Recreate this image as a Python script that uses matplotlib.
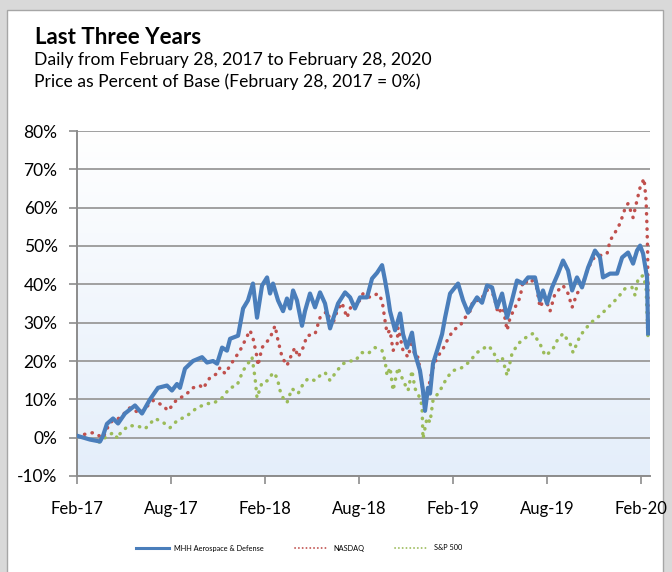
import numpy as np
import matplotlib
matplotlib.use("Agg")
import matplotlib.pyplot as plt
from matplotlib.patches import Rectangle
from matplotlib.lines import Line2D
from matplotlib.colors import LinearSegmentedColormap

plt.rcParams['font.family'] = ['Lato', 'DejaVu Sans']

# x values are months after the base date (Feb 28, 2017)
mhh_x = [0.00, 0.83, 1.47, 1.66, 1.91, 2.30, 2.62, 3.06, 3.70, 4.15, 4.66, 5.17, 5.74, 6.06,
         6.38, 6.57, 6.89, 7.40, 7.98, 8.30, 8.68, 8.94, 9.26, 9.57, 9.77, 10.28, 10.60, 10.91,
         11.23, 11.49, 11.81, 12.13, 12.32, 12.51, 12.83, 13.15, 13.40, 13.60, 13.79, 14.04,
         14.36, 14.55, 14.87, 15.19, 15.51, 15.83, 16.15, 16.66, 17.11, 17.43, 17.74, 18.06,
         18.51, 18.83, 19.15, 19.47, 19.66, 19.85, 19.98, 20.30, 20.62, 20.81, 21.06, 21.38,
         21.57, 21.89, 22.08, 22.21, 22.40, 22.53, 22.72, 22.98, 23.30, 23.49, 23.81, 24.32,
         24.64, 24.96, 25.21, 25.53, 25.85, 26.17, 26.49, 26.81, 27.13, 27.45, 27.76, 28.08,
         28.47, 28.79, 29.23, 29.55, 29.74, 30.00, 30.32, 30.70, 31.02, 31.34, 31.60, 31.91,
         32.23, 32.62, 33.06, 33.38, 33.57, 34.02, 34.47, 34.79, 35.17, 35.49, 35.74, 35.94,
         36.13, 36.38, 36.45]
mhh_y = [0.5, -0.5, -1.0, 0.5, 3.6, 5.0, 3.7, 6.3, 8.4, 6.3, 10.0, 13.0, 13.6, 12.3,
         14.0, 13.0, 18.0, 20.0, 21.0, 19.6, 20.0, 19.3, 23.5, 22.7, 25.8, 26.6, 33.7, 35.8,
         40.2, 31.3, 39.7, 41.8, 37.6, 40.2, 35.8, 33.0, 36.3, 33.7, 38.4, 35.8,
         29.2, 33.0, 37.6, 34.0, 37.9, 35.0, 28.5, 35.0, 37.9, 36.6, 33.7, 36.6,
         36.6, 41.5, 43.0, 45.0, 41.0, 36.6, 33.0, 28.0, 32.4, 27.0, 23.5, 27.4,
         21.9, 17.5, 12.3, 7.0, 13.0, 11.5, 19.3, 22.7, 27.0, 31.3, 37.6, 40.2,
         35.8, 32.6, 34.5, 36.6, 35.2, 39.7, 39.2, 34.0, 37.6, 31.3, 35.8, 41.0,
         40.2, 41.8, 41.8, 35.8, 38.4, 35.0, 39.2, 42.8, 46.2, 43.6, 38.4, 41.8,
         39.2, 44.4, 48.8, 47.0, 41.8, 42.8, 42.8, 47.0, 48.3, 45.4, 48.8, 50.1,
         48.0, 41.8, 27.2]

nasdaq_x = [0.00, 1.02, 1.66, 2.11, 2.74, 3.38, 4.02, 4.85, 5.49, 5.81, 6.38, 6.89, 7.40, 7.85,
            8.04, 8.49, 8.94, 9.13, 9.45, 9.57, 9.96, 10.40, 10.72, 11.04, 11.23, 11.49, 11.55,
            11.81, 12.32, 12.64, 12.83, 13.09, 13.40, 13.72, 13.91, 14.11, 14.43, 14.68, 15.19,
            15.51, 15.96, 16.28, 16.60, 16.91, 17.23, 17.55, 17.87, 18.26, 18.70, 19.21, 19.47,
            19.66, 19.79, 19.98, 20.17, 20.43, 20.49, 20.81, 21.13, 21.38, 21.57, 21.77, 22.02,
            22.21, 22.40, 22.66, 22.98, 23.30, 23.62, 24.00, 24.45, 24.77, 25.08, 25.28, 25.72,
            26.17, 26.36, 26.68, 26.87, 27.19, 27.45, 27.64, 27.96, 28.28, 28.47, 28.91, 29.23,
            29.55, 29.87, 30.19, 30.51, 31.02, 31.34, 31.60, 31.91, 32.23, 32.55, 32.94, 33.38,
            33.83, 34.02, 34.34, 34.66, 34.98, 35.17, 35.49, 35.74, 35.94, 36.19, 36.32, 36.38,
            36.42, 36.45]
nasdaq_y = [0.5, 1.3, 0.0, 4.0, 5.2, 7.8, 6.3, 9.7, 8.4, 7.0, 10.0, 11.0, 13.0, 13.6,
            12.8, 15.7, 16.7, 18.3, 16.7, 17.5, 20.0, 22.7, 25.3, 28.0, 26.0, 21.0, 18.8,
            23.5, 26.0, 29.2, 25.3, 21.0, 18.8, 21.9, 23.5, 21.0, 23.5, 26.6, 27.0,
            31.3, 33.0, 29.2, 33.0, 35.2, 31.3, 35.0, 34.5, 37.6, 36.6, 37.6, 35.8,
            30.5, 27.2, 28.0, 22.7, 24.5, 28.7, 22.7, 21.0, 25.3, 21.0, 21.0, 14.0,
            8.9, 12.3, 17.5, 21.0, 22.7, 25.3, 28.0, 29.2, 31.3, 33.0, 35.8, 35.8,
            38.4, 39.7, 35.8, 32.4, 34.0, 28.0, 31.3, 34.0, 36.6, 41.0, 40.2, 41.8,
            34.0, 36.6, 33.0, 37.6, 39.7, 37.6, 34.0, 37.6, 39.2, 43.6, 46.7, 47.5,
            48.0, 51.4, 53.5, 55.9, 59.8, 61.1, 57.4, 61.9, 65.3, 67.6, 61.9, 54.8,
            48.3, 28.5]

sp500_x = [0.00, 0.83, 1.47, 1.79, 2.30, 2.62, 2.74, 3.26, 3.83, 4.34, 4.98, 5.49, 5.94, 6.38,
           7.02, 7.66, 8.30, 8.68, 9.26, 9.77, 10.21, 10.60, 10.91, 11.17, 11.36, 11.49, 11.81,
           12.19, 12.51, 12.77, 12.96, 13.15, 13.40, 13.72, 14.11, 14.43, 14.74, 15.19, 15.51,
           15.83, 16.15, 16.60, 16.98, 17.43, 17.74, 18.19, 18.57, 19.02, 19.47, 19.66, 19.79,
           19.98, 20.17, 20.49, 20.81, 21.13, 21.38, 21.57, 21.77, 22.02, 22.08, 22.34, 22.53,
           22.72, 23.17, 23.62, 24.00, 24.45, 24.77, 25.08, 25.53, 25.91, 26.23, 26.55, 26.81,
           27.13, 27.45, 27.76, 28.15, 28.60, 29.11, 29.55, 29.87, 30.32, 30.64, 31.02, 31.47,
           31.66, 32.11, 32.74, 33.38, 34.15, 34.53, 34.98, 35.42, 35.62, 35.81, 36.13, 36.32,
           36.38, 36.45]
sp500_y = [0.5, -0.3, -1.2, 0.0, 1.3, -0.3, 1.0, 3.1, 3.1, 2.3, 5.0, 4.0, 2.6, 4.4,
           5.7, 7.8, 8.9, 8.9, 10.4, 13.0, 13.6, 17.5, 19.3, 21.0, 15.7, 10.4, 14.4,
           14.9, 17.0, 15.7, 12.3, 10.4, 9.1, 12.8, 11.5, 14.0, 15.4, 14.9, 16.2,
           17.0, 14.9, 17.5, 19.3, 20.0, 20.0, 22.2, 21.9, 23.5, 22.7, 20.0, 16.2,
           18.3, 12.3, 18.3, 14.9, 12.3, 17.5, 12.8, 11.5, 8.4, -0.3, 5.2, 4.0,
           9.7, 12.3, 15.7, 17.5, 18.0, 18.8, 20.0, 22.2, 23.2, 24.0, 22.7, 20.0,
           21.0, 16.2, 21.9, 24.5, 26.0, 27.2, 24.5, 21.4, 22.7, 25.3, 27.2, 24.5,
           22.2, 26.6, 29.8, 31.9, 35.0, 36.6, 38.9, 39.2, 37.1, 41.5, 42.3, 39.2,
           32.4, 25.3]

tick_months = [0, 6, 12, 18, 24, 30, 36]
tick_labels = ["Feb-17", "Aug-17", "Feb-18", "Aug-18", "Feb-19", "Aug-19", "Feb-20"]
y_ticks = [-10, 0, 10, 20, 30, 40, 50, 60, 70, 80]

fig = plt.figure(figsize=(6.72, 5.72), dpi=100)
fig.patch.set_facecolor("#d9d9d9")

# white panel behind everything
panel = Rectangle((7 / 672, -0.02), 656 / 672, 1 - 10 / 572 + 0.02, transform=fig.transFigure,
                  facecolor="white", edgecolor="#a6a6a6", linewidth=1.0, zorder=-10)
fig.patches.append(panel)

ax = fig.add_axes([77 / 672, 96 / 572, 573 / 672, 345 / 572])
ax.set_zorder(1)
ax.set_facecolor("none")

# gradient background, white at top to pale blue at bottom
grad = np.linspace(0, 1, 256).reshape(-1, 1)
cmap = LinearSegmentedColormap.from_list("bg", ["#ffffff", "#e4eefa"])
ax.imshow(grad, aspect="auto", cmap=cmap, extent=[0, 1, 0, 1], origin="upper",
          transform=ax.transAxes, zorder=0)

for yv in y_ticks:
    ax.axhline(yv, color="#a0a0a0", linewidth=1.4, zorder=1)

dots = (0, (0.1, 2.1))
ax.plot(sp500_x, sp500_y, color="#9bbb59", linewidth=2.5, linestyle=dots,
        dash_capstyle="round", zorder=3)
ax.plot(nasdaq_x, nasdaq_y, color="#c0504d", linewidth=2.5, linestyle=dots,
        dash_capstyle="round", zorder=4)
ax.plot(mhh_x, mhh_y, color="#4a7ebb", linewidth=3.0, solid_joinstyle="round", zorder=5)

ax.set_xlim(0, 36.57)
ax.set_ylim(-10, 80)
ax.set_yticks(y_ticks)
ax.set_yticklabels([f"{v}%" for v in y_ticks], fontsize=12.5)
ax.set_xticks(tick_months)
ax.set_xticklabels(tick_labels, fontsize=12)

for s in ["top", "right"]:
    ax.spines[s].set_visible(False)
for s in ["left", "bottom"]:
    ax.spines[s].set_color("#8c8c8c")
    ax.spines[s].set_linewidth(1.4)
ax.tick_params(axis="both", color="#8c8c8c", width=1.2, length=6, direction="out")
ax.tick_params(axis="x", pad=12)
ax.tick_params(axis="y", pad=8)

fig.text(35 / 672, 1 - 38 / 572, "Last Three Years", fontsize=16, fontweight="bold",
         va="center", ha="left")
fig.text(34 / 672, 1 - 60 / 572, "Daily from February 28, 2017 to February 28, 2020",
         fontsize=12.6, va="center", ha="left")
fig.text(34 / 672, 1 - 82 / 572, "Price as Percent of Base (February 28, 2017 = 0%)",
         fontsize=12.6, va="center", ha="left")

handles = [
    Line2D([], [], color="#4a7ebb", linewidth=2.2),
    Line2D([], [], color="#c0504d", linewidth=1.3, linestyle=(0, (0.1, 2.0)), dash_capstyle="round"),
    Line2D([], [], color="#9bbb59", linewidth=1.3, linestyle=(0, (0.1, 2.0)), dash_capstyle="round"),
]
fig.legend(handles, ["MHH Aerospace & Defense", "NASDAQ", "S&P 500"], loc="center",
           bbox_to_anchor=(299 / 672, 1 - 548 / 572), ncol=3, frameon=False, fontsize=5.3,
           handlelength=4.4, columnspacing=4.2, handletextpad=0.8)

fig.savefig("out.png", dpi=100)
